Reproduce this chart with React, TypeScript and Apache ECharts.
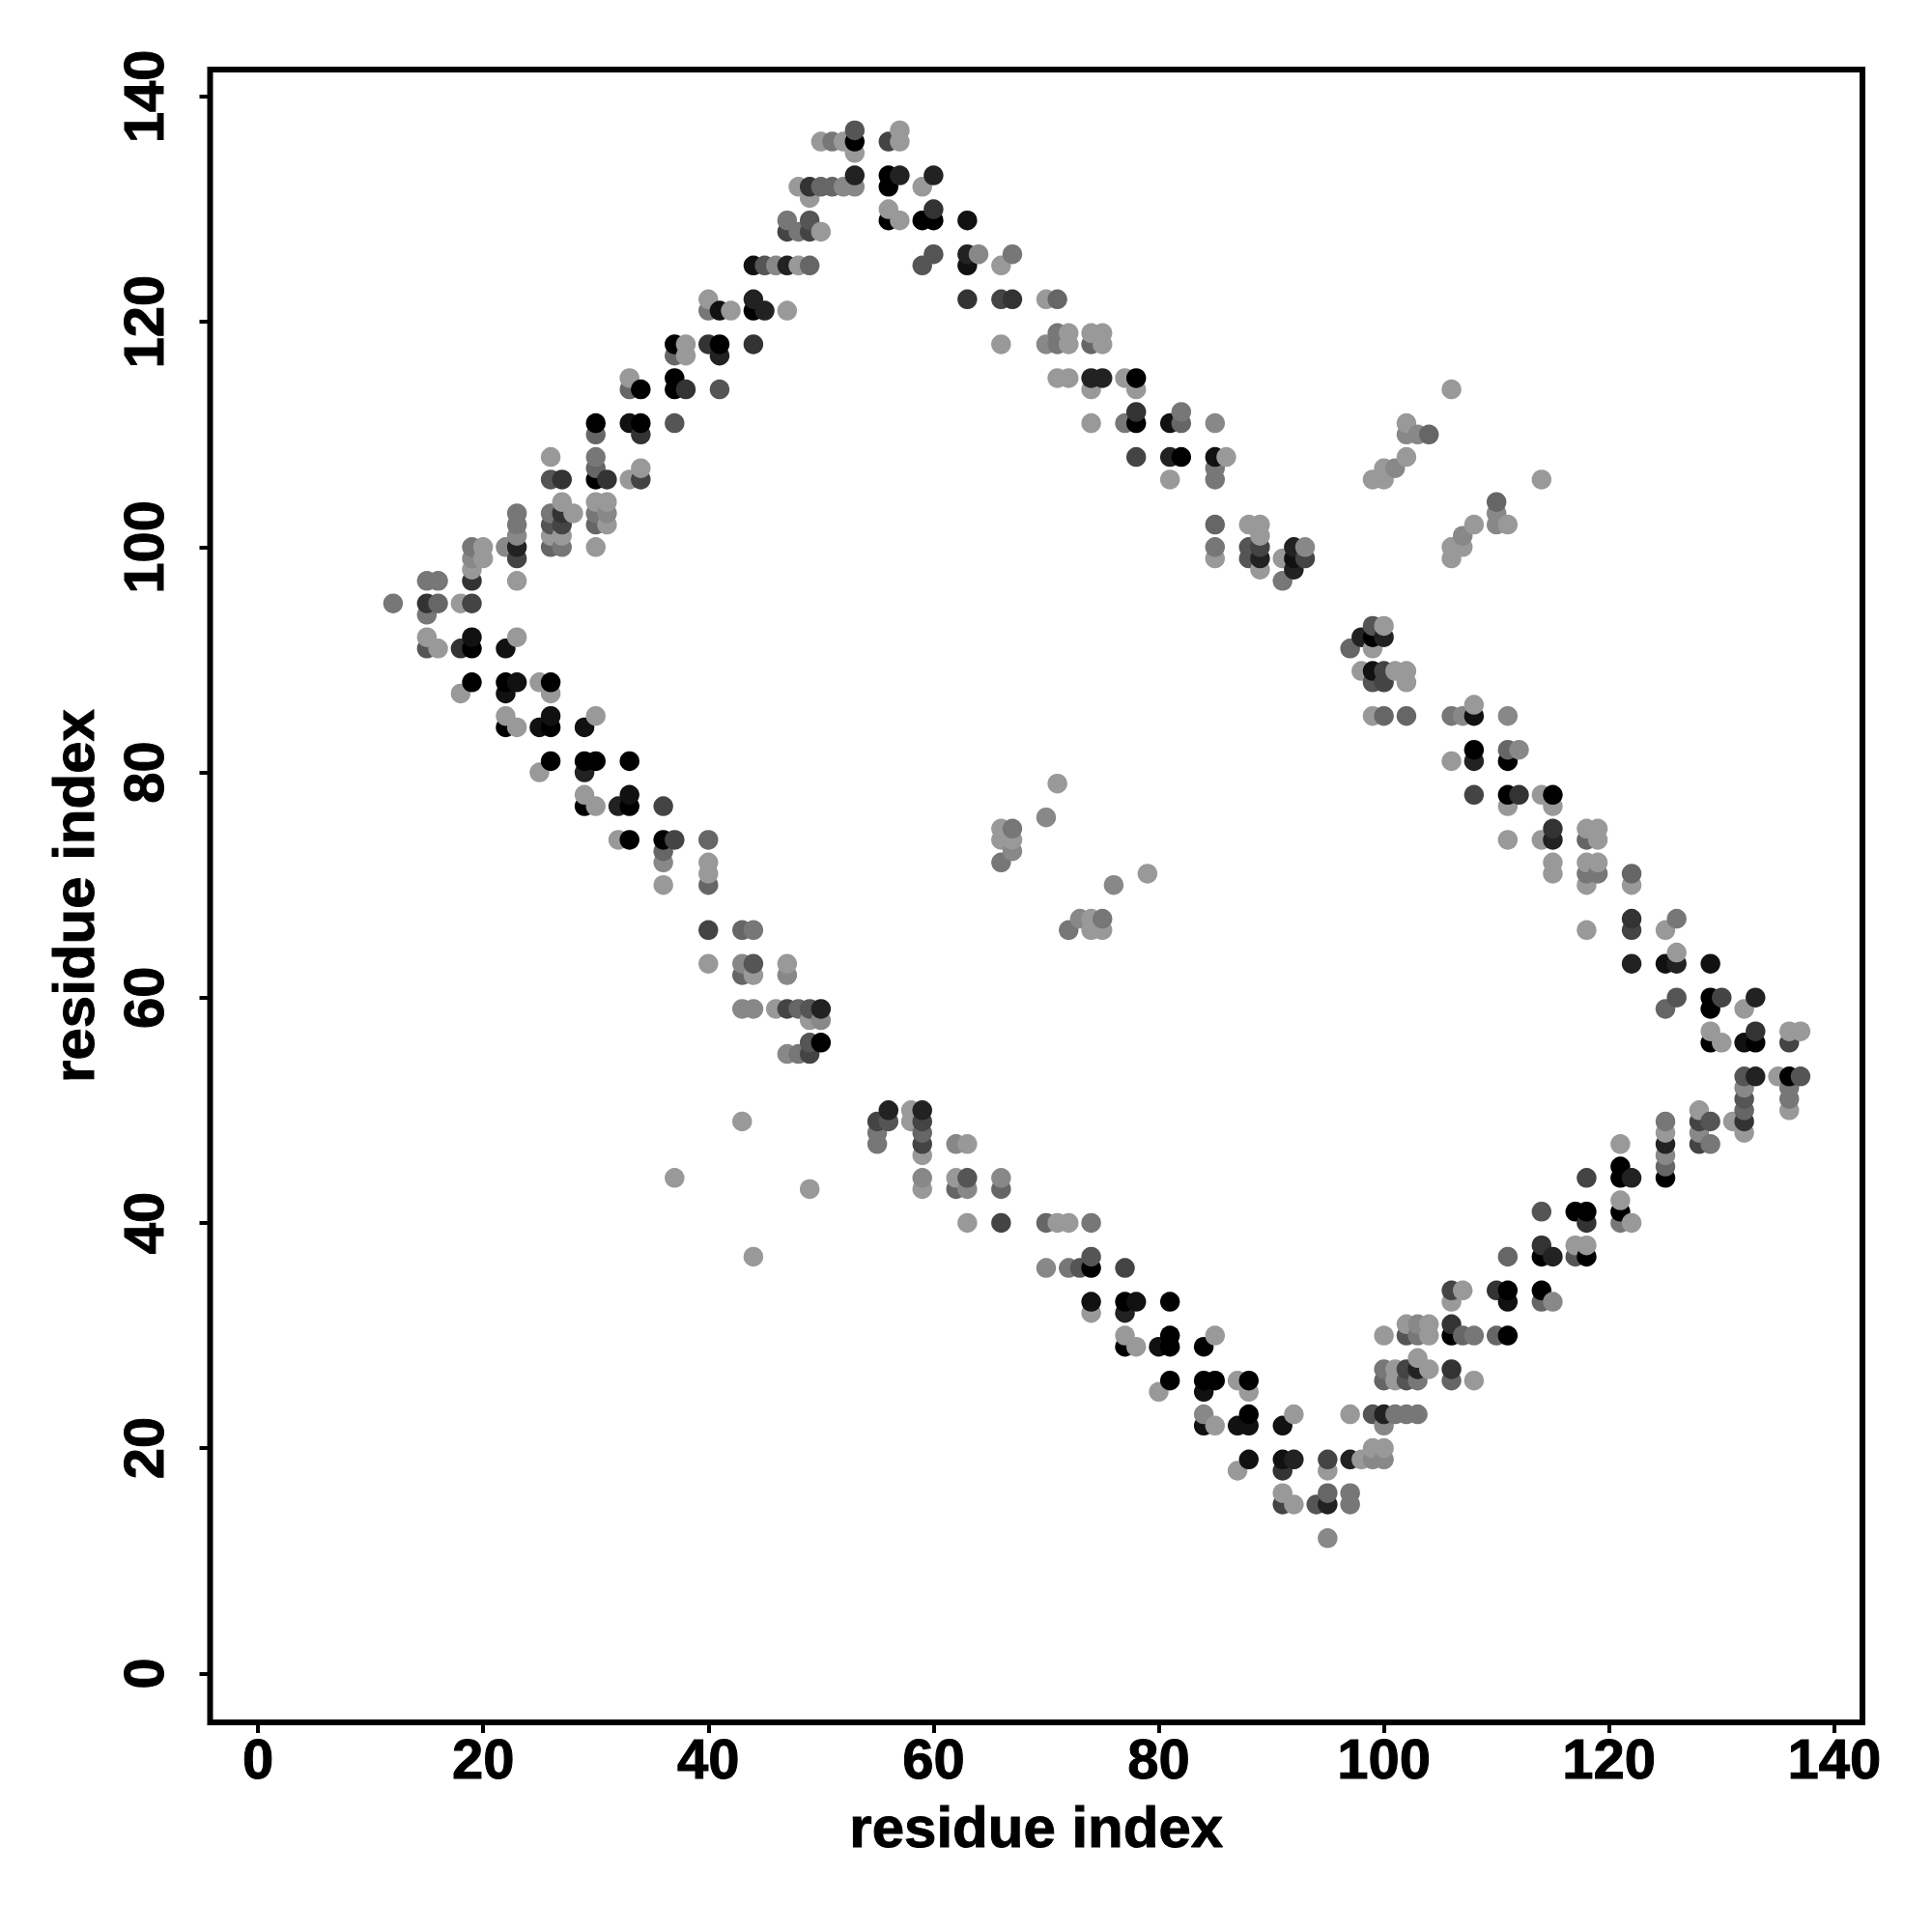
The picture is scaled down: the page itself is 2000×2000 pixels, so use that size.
import React, { useEffect, useRef } from "react";
import * as echarts from "echarts";

const tickValues = [0, 20, 40, 60, 80, 100, 120, 140];
const axisTitle = "residue index";

// Each contact: [residue x, residue y, darkness level 0 (black) .. 9 (lightest)]
const upperLeft = [
  [12,95,7],[15,97,7],[16,97,7],[15,95,3],[16,95,6],[18,95,9],[19,95,4],[15,94,7],
  [19,100,7],[20,100,9],[22,100,8],[23,100,2],[19,99,8],[20,99,9],[23,99,4],[19,98,9],[19,97,3],[23,97,9],
  [23,103,7],[23,102,7],[23,101,8],
  [26,103,7],[27,103,3],[28,103,9],[26,102,5],[27,102,4],[26,101,9],[27,101,9],[26,100,6],[27,100,7],[27,104,9],
  [30,104,9],[31,104,9],[30,103,7],[31,103,8],[30,102,6],[31,102,9],[30,100,9],
  [26,108,9],[26,106,5],[27,106,3],[30,108,7],[30,107,6],[30,106,0],[31,106,3],[33,106,9],[34,107,9],[34,106,4],
  [30,111,0],[30,110,6],[33,111,1],[34,111,0],[34,110,3],[37,111,5],
  [33,115,9],[33,114,6],[34,114,0],[37,115,0],[37,114,0],[38,114,3],[41,114,5],
  [37,118,0],[38,118,9],[37,117,6],[38,117,9],[40,118,3],[41,118,0],[41,117,2],[44,118,3],
  [40,122,9],[40,121,7],[41,121,1],[42,121,9],[44,122,2],[44,121,0],[45,121,2],[47,121,9],
  [44,125,1],[45,125,5],[46,125,8],[47,125,2],[48,125,9],[49,125,6],
  [47,129,7],[49,129,5],[47,128,4],[48,128,7],[49,128,4],[50,128,9],
  [49,131,9],[48,132,9],[49,132,3],[50,132,6],[51,132,6],[52,132,8],[53,132,8],[53,133,2],
  [50,136,9],[51,136,7],[52,136,9],[53,137,5],[53,136,0],[53,135,9],
];

const upperRight = [
  [56,136,4],[57,137,9],[57,136,9],[56,133,0],[56,132,0],[57,133,2],[60,133,2],[59,132,9],
  [56,130,9],[56,129,0],[57,129,9],[59,129,0],[60,129,0],[60,130,3],[63,129,1],
  [59,125,5],[60,126,5],[63,126,2],[63,125,1],[64,126,8],[67,126,7],[66,125,9],
  [63,122,3],[66,122,4],[67,122,3],[70,122,9],[71,122,6],[66,118,9],
  [71,119,7],[72,119,9],[74,119,9],[75,119,9],[70,118,8],[71,118,7],[72,118,9],[74,118,6],[75,118,9],
  [71,115,9],[72,115,9],[74,115,2],[75,115,2],[77,115,9],[78,115,0],[74,114,9],[78,114,9],
  [78,112,3],[82,112,7],[74,111,9],[77,111,7],[78,111,0],[81,111,1],[82,111,6],[85,111,8],
  [78,108,4],[81,108,2],[82,108,0],[85,108,1],[86,108,9],[85,107,7],[81,106,9],[85,106,7],
  [85,102,6],[88,102,9],[89,102,9],[89,101,9],[85,100,7],[88,100,5],[89,100,4],[92,100,2],[93,100,8],
  [85,99,9],[88,99,5],[89,99,2],[91,99,9],[92,99,1],[93,99,4],[89,98,9],[92,98,2],[91,97,7],
  [99,93,5],[100,93,9],[98,92,2],[99,92,0],[100,92,2],[97,91,6],[99,91,9],
  [98,89,9],[99,89,1],[100,89,4],[101,89,9],[102,89,9],[99,88,5],[100,88,4],[102,88,9],
  [108,86,9],[99,85,9],[100,85,6],[102,85,6],[106,85,7],[107,85,8],[108,85,1],[111,85,8],
  [108,82,0],[111,82,6],[112,82,8],[106,81,9],[108,81,2],[111,81,0],
  [108,78,4],[111,78,0],[112,78,3],[114,78,9],[115,78,0],[111,77,9],[115,77,9],
  [115,75,3],[118,75,9],[119,75,9],[111,74,9],[114,74,9],[115,74,2],[118,74,6],[119,74,9],
  [115,72,9],[118,72,9],[119,72,9],[115,71,9],[118,71,7],[119,71,7],[122,71,6],[118,70,9],[122,70,9],
  [122,67,3],[126,67,7],[118,66,9],[122,66,4],[125,66,9],[126,64,9],
  [122,63,2],[125,63,1],[126,63,2],[129,63,1],
  [126,60,5],[129,60,0],[130,60,4],[133,60,2],[125,59,6],[129,59,0],[132,59,9],
  [129,57,9],[133,57,3],[136,57,9],[137,57,9],[129,56,0],[130,56,9],[132,56,1],[133,56,0],[136,56,4],
  [132,53,5],[133,53,2],[135,53,9],[136,53,0],[137,53,5],[132,52,8],[136,52,7],[132,51,5],[136,51,7],
  [128,50,9],[132,50,6],[136,50,9],
];

const lowerRight = [
  [125,49,7],[128,49,4],[129,49,5],[131,49,9],[132,49,3],[125,48,9],[128,48,8],[132,48,9],
  [121,47,9],[125,47,2],[128,47,4],[129,47,7],[125,46,8],[121,45,0],[125,45,6],
  [118,44,4],[121,44,0],[122,44,2],[125,44,0],[121,42,9],
  [114,41,5],[117,41,0],[118,41,0],[121,41,0],[118,40,3],[121,40,7],[122,40,9],
  [114,38,3],[117,38,9],[118,38,9],[111,37,6],[114,37,0],[115,37,2],[117,37,5],[118,37,0],
  [106,34,4],[107,34,9],[110,34,3],[111,34,0],[114,34,0],[106,33,9],[111,33,1],[114,33,6],[115,33,8],
  [102,31,9],[103,31,8],[104,31,9],[106,31,3],
  [100,30,9],[102,30,5],[103,30,7],[104,30,9],[106,30,0],[107,30,6],[108,30,7],[110,30,6],[111,30,0],
  [103,28,9],[100,27,7],[101,27,9],[102,27,4],[103,27,2],[104,27,9],[106,27,3],
  [100,26,6],[101,26,9],[102,26,5],[103,26,7],[106,26,6],[108,26,9],
  [97,23,9],[99,23,5],[100,23,2],[101,23,7],[102,23,7],[103,23,7],[100,22,8],
  [99,20,9],[100,20,9],[95,19,4],[97,19,2],[98,19,9],[99,19,8],[100,19,8],[95,18,9],
  [91,16,9],[95,16,6],[97,16,7],[91,15,4],[92,15,9],[94,15,5],[95,15,2],[97,15,7],[95,12,8],
];

const lowerMiddle = [
  [88,19,1],[91,19,1],[92,19,2],[87,18,9],[91,18,3],
  [84,23,8],[88,23,0],[92,23,9],[84,22,1],[85,22,9],[87,22,1],[88,22,1],[91,22,1],
  [80,25,9],[84,25,1],[88,25,9],[81,26,0],[84,26,0],[85,26,0],[87,26,9],[88,26,0],
  [77,29,0],[78,29,9],[80,29,1],[81,29,0],[84,29,0],[77,30,9],[81,30,0],[85,30,9],
  [74,32,9],[77,32,2],[74,33,1],[77,33,0],[78,33,1],[81,33,0],
  [70,36,8],[72,36,7],[73,36,5],[74,36,0],[77,36,4],[74,37,5],
  [63,40,9],[66,40,4],[70,40,6],[71,40,9],[72,40,9],[74,40,7],
  [62,43,6],[63,43,8],[66,43,6],[62,44,9],[63,44,5],[66,44,8],[62,47,8],[63,47,9],
  [59,43,9],[59,44,8],[59,46,9],[59,47,4],[59,48,6],[59,49,4],[59,50,2],[58,50,9],[58,49,9],
  [55,47,7],[55,48,7],[55,49,4],[56,49,5],[56,50,2],
];

const lowerLeft = [
  [15,92,9],[19,92,1],[23,92,9],[15,91,5],[16,91,9],[18,91,3],[19,91,0],[22,91,1],
  [19,88,0],[22,88,0],[23,88,1],[25,88,9],[26,88,0],[18,87,9],[22,87,1],[26,87,9],
  [22,85,9],[26,85,1],[30,85,9],[22,84,0],[23,84,9],[25,84,1],[26,84,0],[29,84,1],
  [26,81,0],[29,81,0],[30,81,0],[33,81,0],[25,80,9],[29,80,2],
  [29,78,9],[33,78,1],[29,77,0],[30,77,9],[32,77,2],[33,77,0],[36,77,4],
  [32,74,9],[33,74,0],[36,74,0],[37,74,4],[40,74,6],[36,73,6],[36,72,8],[40,72,9],[40,71,9],[36,70,9],[40,70,6],
  [40,66,4],[43,66,6],[44,66,7],[40,63,9],[43,63,8],[44,63,5],[47,63,9],[43,62,6],[44,62,9],[47,62,8],
  [43,59,8],[44,59,8],[46,59,9],[47,59,4],[48,59,6],[49,59,5],[50,59,2],[49,58,9],[50,58,8],
  [49,56,5],[50,56,0],[47,55,8],[48,55,7],[49,55,4],
];

const islands = [
  [37,44,9],[43,49,9],[44,37,9],[49,43,9],
  [66,75,9],[67,75,7],[66,74,9],[67,74,9],[67,73,8],[66,72,7],[70,76,8],[71,79,9],
  [73,67,8],[74,67,9],[75,67,7],[72,66,7],[74,66,9],[75,66,9],[76,70,8],[79,71,9],
  [99,106,9],[100,106,9],[100,107,9],[101,107,8],[102,108,9],[102,111,9],[102,110,8],[103,110,8],[104,110,6],[106,114,9],
  [106,100,9],[107,100,9],[106,99,9],[107,101,8],[108,102,9],[110,104,6],[110,103,8],[110,102,8],[111,102,9],[114,106,9],
];

const ordered = [...upperLeft, ...upperRight, ...lowerRight, ...lowerMiddle, ...lowerLeft, ...islands]
  .slice()
  .sort((a, b) => a[0] - b[0] || a[1] - b[1]);

const grey = (level: number) => {
  const v = level * 17;
  return `rgb(${v},${v},${v})`;
};

const FONT = "Liberation Sans";
const heavy = { textBorderColor: "#000", textBorderWidth: 1 };

export default function App() {
  const ref = useRef<HTMLDivElement>(null);
  useEffect(() => {
    const chart = echarts.init(ref.current!, undefined, { renderer: "svg" });
    const axisCommon = {
      type: "value" as const,
      name: axisTitle,
      nameLocation: "middle" as const,
      nameTextStyle: { fontFamily: FONT, fontWeight: "bold" as const, fontSize: 60, color: "#000", ...heavy },
      axisLine: { show: false, onZero: false },
      splitLine: { show: false },
      axisTick: { show: true, length: 11, lineStyle: { color: "#000", width: 4 }, customValues: tickValues },
    };
    chart.setOption({
      animation: false,
      backgroundColor: "#fff",
      grid: {
        show: true,
        left: 217.5,
        top: 72,
        width: 1710.5,
        height: 1711,
        borderColor: "#000",
        borderWidth: 6,
        backgroundColor: "#fff",
        containLabel: false,
      },
      xAxis: {
        ...axisCommon,
        min: -4.25,
        max: 142.5,
        nameGap: 78,
        axisLabel: {
          fontFamily: FONT,
          fontWeight: "bold",
          fontSize: 58,
          color: "#000",
          margin: 8,
          ...heavy,
          customValues: tickValues,
          formatter: (v: number) => String(v),
        },
      },
      yAxis: {
        ...axisCommon,
        min: -4.35,
        max: 142.4,
        nameGap: 111,
        axisLabel: {
          fontFamily: FONT,
          fontWeight: "bold",
          fontSize: 58,
          color: "#000",
          margin: 40,
          rotate: 90,
          ...heavy,
          customValues: tickValues,
          formatter: (v: number) => String(v),
        },
      },
      series: [
        {
          type: "scatter",
          symbol: "circle",
          symbolSize: 20.5,
          silent: true,
          clip: false,
          data: ordered.map((p) => ({
            value: [p[0], p[1]],
            itemStyle: { color: grey(p[2]), opacity: 1 },
          })),
        },
      ],
    });
    return () => chart.dispose();
  }, []);
  return (
    <div
      ref={ref}
      style={{ position: "absolute", left: 0, top: 0, width: 2000, height: 2000, background: "#fff" }}
    />
  );
}
